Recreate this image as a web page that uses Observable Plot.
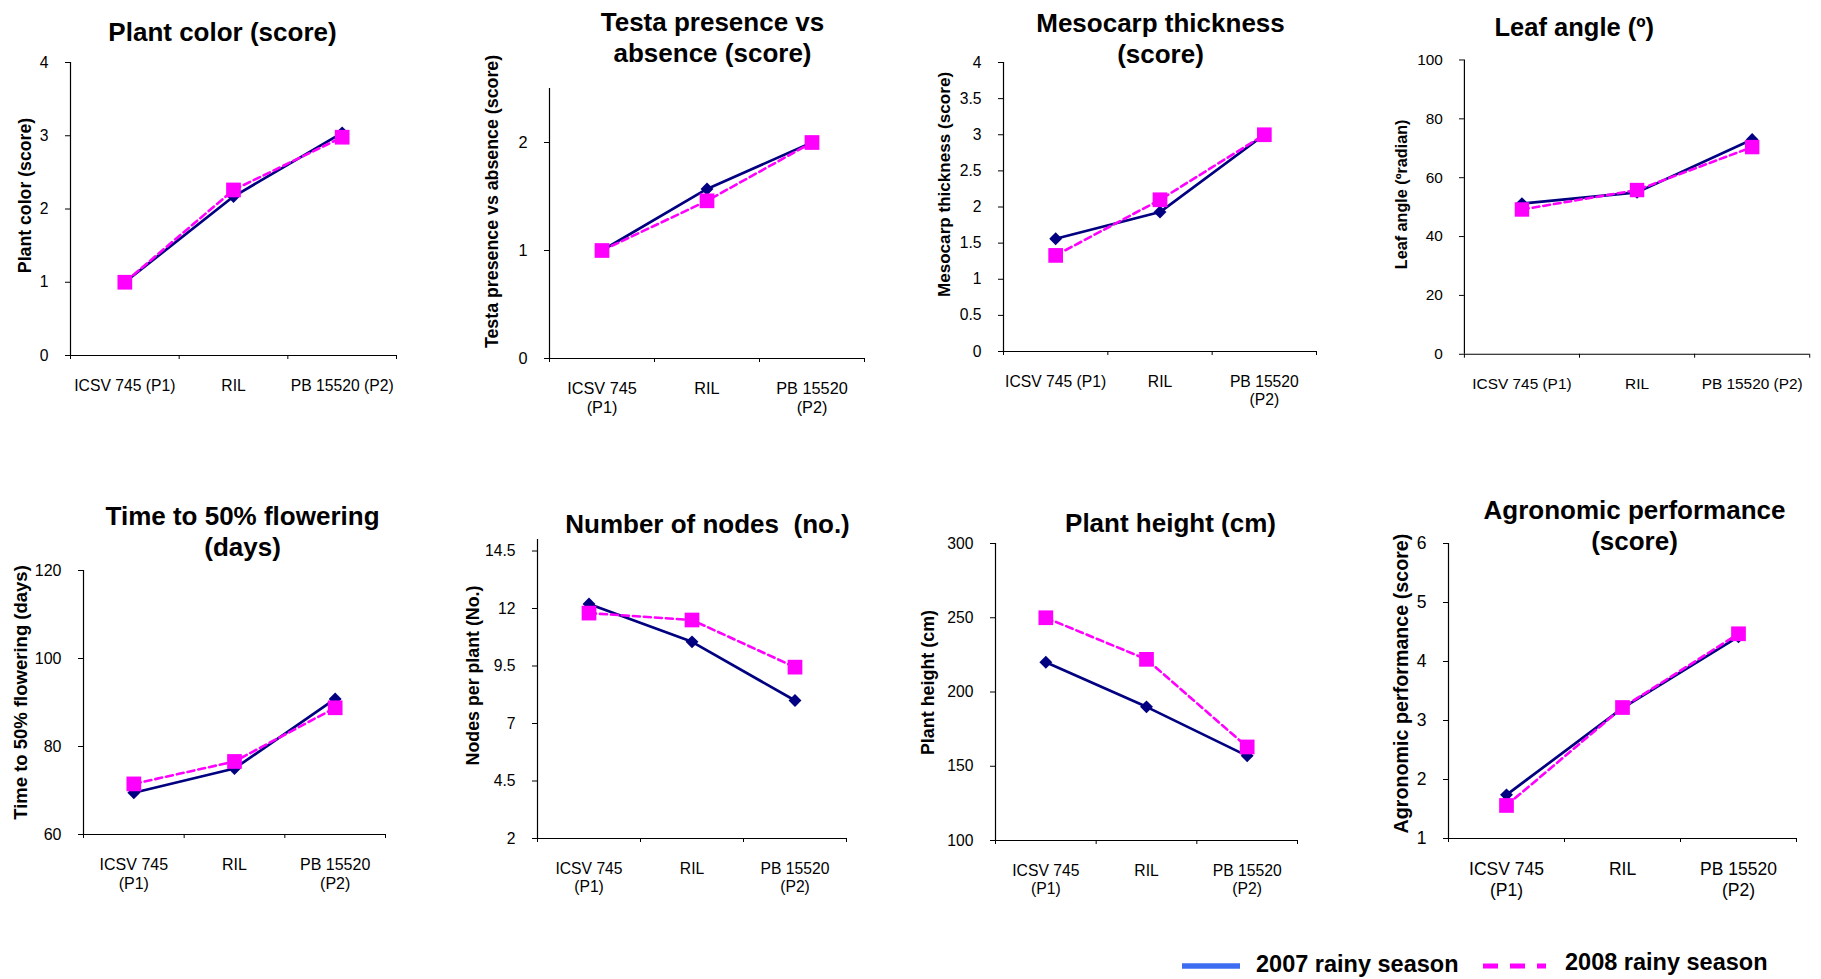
<!DOCTYPE html>
<html>
<head>
<meta charset="utf-8">
<script src="https://cdn.jsdelivr.net/npm/d3@7"></script>
<script src="https://cdn.jsdelivr.net/npm/@observablehq/plot@0.6"></script>
<style>
  html, body { margin: 0; padding: 0; background: #fff; }
  #root { position: relative; width: 1821px; height: 979px; overflow: hidden; background: #fff;
          font-family: "Liberation Sans", Arial, Helvetica, sans-serif; }
  .panel { position: absolute; }
</style>
</head>
<body>
<div id="root"></div>
<script>
// ---- data ----
const categories = ["ICSV 745 (P1)", "RIL", "PB 15520 (P2)"];
const seasons = ["2007 rainy season", "2008 rainy season"];

const plantColor2007 = [1.0, 2.17, 3.04];
const plantColor2008 = [1.0, 2.26, 2.98];
const testa2007 = [1.0, 1.57, 2.0];
const testa2008 = [1.0, 1.46, 2.0];
const mesocarp2007 = [1.56, 1.93, 3.0];
const mesocarp2008 = [1.33, 2.10, 3.0];
const leafAngle2007 = [51.2, 55.0, 73.0];
const leafAngle2008 = [49.2, 55.8, 70.4];
const flowering2007 = [69.5, 75.0, 90.8];
const flowering2008 = [71.5, 76.6, 88.8];
const nodes2007 = [12.2, 10.55, 8.0];
const nodes2008 = [11.8, 11.5, 9.45];
const height2007 = [220, 190, 157];
const height2008 = [250, 222, 163];
const agro2007 = [1.74, 3.21, 4.42];
const agro2008 = [1.56, 3.22, 4.47];

const titles = ["Plant color (score)", "Testa presence vs\nabsence (score)", "Mesocarp thickness\n(score)", "Leaf angle (º)",
  "Time to 50% flowering\n(days)", "Number of nodes  (no.)", "Plant height (cm)", "Agronomic performance\n(score)"];
const yLabels = ["Plant color (score)", "Testa presence vs absence (score)", "Mesocarp thickness (score)", "Leaf angle (ºradian)",
  "Time to 50% flowering (days)", "Nodes per plant (No.)", "Plant height (cm)", "Agronomic performance (score)"];
const yDomains = [[0, 4], [0, 2.5], [0, 4], [0, 100], [60, 120], [2, 15], [100, 300], [1, 6]];
const yTickValues = [
  [0, 1, 2, 3, 4], [0, 1, 2], [0, 0.5, 1, 1.5, 2, 2.5, 3, 3.5, 4], [0, 20, 40, 60, 80, 100],
  [60, 80, 100, 120], [2, 4.5, 7, 9.5, 12, 14.5], [100, 150, 200, 250, 300], [1, 2, 3, 4, 5, 6]
];
const series2007 = [plantColor2007, testa2007, mesocarp2007, leafAngle2007, flowering2007, nodes2007, height2007, agro2007];
const series2008 = [plantColor2008, testa2008, mesocarp2008, leafAngle2008, flowering2008, nodes2008, height2008, agro2008];

// ---- layout (frame boxes, label positions, sizes) ----
const layout = [
  {L: 70,   R: 396,  T: 62,  B: 355, tx: 222,  ty: 31,  lx: 25,   ly: 195, lfs: 17.7, tfs: 15.7, wrap: "none"},
  {L: 549,  R: 864,  T: 88,  B: 358, tx: 712,  ty: 36,  lx: 492,  ly: 201, lfs: 17.8, tfs: 16.3, wrap: "both"},
  {L: 1003, R: 1316, T: 62,  B: 351, tx: 1160, ty: 37,  lx: 944,  ly: 184, lfs: 17.1, tfs: 15.7, wrap: "p2"},
  {L: 1466, R: 1818, T: 61,  B: 361, tx: 1578, ty: 27,  lx: 1402, ly: 198, lfs: 16.5, tfs: 15.7, wrap: "none"},
  {L: 83,   R: 385,  T: 570, B: 834, tx: 242,  ty: 530, lx: 21,   ly: 692, lfs: 18.5, tfs: 16.0, wrap: "both"},
  {L: 537,  R: 846,  T: 539, B: 838, tx: 707,  ty: 523, lx: 473,  ly: 675, lfs: 17.8, tfs: 15.7, wrap: "both"},
  {L: 995,  R: 1297, T: 543, B: 840, tx: 1170, ty: 522, lx: 928,  ly: 682, lfs: 17.9, tfs: 15.7, wrap: "both"},
  {L: 1448, R: 1796, T: 543, B: 838, tx: 1634, ty: 524, lx: 1401, ly: 683, lfs: 19.7, tfs: 17.5, wrap: "both"}
];

function wrapLabel(label, i, mode) {
  if (mode === "both" && i !== 1) return label.replace(" (", "\n(");
  if (mode === "p2" && i === 2) return label.replace(" (", "\n(");
  return label;
}

const root = document.getElementById("root");
const ml = 110, mr = 12, mt = 80, mb = 80;

layout.forEach((p, k) => {
  const rows = (vals, season) => vals.map((v, i) => ({pos: i + 0.5, value: v, season}));
  const d7 = rows(series2007[k], seasons[0]);
  const d8 = rows(series2008[k], seasons[1]);
  const labels = categories.map((c, i) => wrapLabel(c, i, p.wrap));
  const [y0, y1] = yDomains[k];
  const chart = Plot.plot({
    width: p.R - p.L + ml + mr,
    height: p.B - p.T + mt + mb,
    marginLeft: ml, marginRight: mr, marginTop: mt, marginBottom: mb,
    style: {background: "transparent", overflow: "visible", color: "black",
            fontFamily: '"Liberation Sans", Arial, Helvetica, sans-serif'},
    x: {domain: [0, 3], label: null},
    y: {domain: [y0, y1], label: null},
    marks: [
      Plot.axisY({ticks: yTickValues[k], tickSize: 5, tickPadding: 17, fontSize: p.tfs, label: null,
                  tickFormat: d => String(d), stroke: "black", fill: "black"}),
      Plot.axisX({ticks: [0, 1, 2, 3], tickSize: 4, tickFormat: () => "", stroke: "black", label: null}),
      Plot.axisX({ticks: [0.5, 1.5, 2.5], tickSize: 0, tickPadding: 22, fontSize: p.tfs, lineHeight: 1.17,
                  tickFormat: d => labels[Math.floor(d)], fill: "black", label: null}),
      Plot.ruleX([0], {stroke: "black", strokeWidth: 1.2}),
      Plot.ruleY([y0], {stroke: "black", strokeWidth: 1.2}),
      Plot.line(d7, {x: "pos", y: "value", stroke: "#000080", strokeWidth: 2.7}),
      Plot.dot(d7, {x: "pos", y: "value", symbol: "diamond2", r: 5.8, fill: "#000080"}),
      Plot.line(d8, {x: "pos", y: "value", stroke: "#FF00FF", strokeWidth: 2.6, strokeDasharray: "7,4"}),
      Plot.dot(d8, {x: "pos", y: "value", symbol: "square", r: 8.3, fill: "#FF00FF"}),
      Plot.text([titles[k]], {frameAnchor: "top", textAnchor: "middle", lineAnchor: "middle",
        dx: p.tx - (p.L + p.R) / 2, dy: p.ty - p.T, fontSize: 26, fontWeight: "bold",
        lineHeight: 1.2, fill: "black"}),
      Plot.text([yLabels[k]], {frameAnchor: "left", textAnchor: "middle", lineAnchor: "middle", rotate: -90,
        dx: p.lx - p.L, dy: p.ly - (p.T + p.B) / 2, fontSize: p.lfs, fontWeight: "bold", fill: "black"})
    ]
  });
  const wrap = document.createElement("div");
  wrap.className = "panel";
  wrap.style.left = (p.L - ml) + "px";
  wrap.style.top = (p.T - mt) + "px";
  wrap.appendChild(chart);
  root.appendChild(wrap);
});

// ---- legend ----
const legend = d3.create("svg")
  .attr("width", 671).attr("height", 39)
  .style("position", "absolute").style("left", "1150px").style("top", "940px")
  .style("font-family", '"Liberation Sans", Arial, Helvetica, sans-serif');
legend.append("line").attr("x1", 32).attr("x2", 90).attr("y1", 26).attr("y2", 26)
  .attr("stroke", "#3d6cf0").attr("stroke-width", 5.5);
legend.append("text").attr("x", 106).attr("y", 32).attr("font-size", 23.5).attr("font-weight", "bold")
  .text(seasons[0]);
legend.append("line").attr("x1", 333).attr("x2", 396).attr("y1", 26).attr("y2", 26)
  .attr("stroke", "#FF00FF").attr("stroke-width", 5).attr("stroke-dasharray", "15,12");
legend.append("text").attr("x", 415).attr("y", 30).attr("font-size", 23.5).attr("font-weight", "bold")
  .text(seasons[1]);
root.appendChild(legend.node());
</script>
</body>
</html>
